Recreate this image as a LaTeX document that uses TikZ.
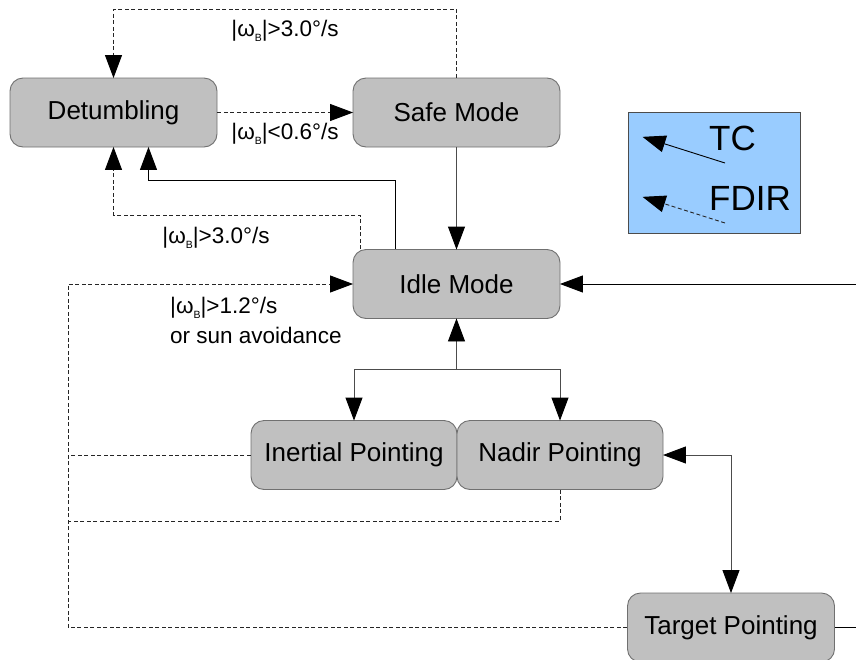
\documentclass[tikz,border=0pt]{standalone}
\usepackage{fontspec}
\setmainfont{Liberation Sans}
\usetikzlibrary{arrows.meta,calc}
\definecolor{boxfill}{HTML}{C0C0C0}
\definecolor{boxline}{HTML}{707070}
\definecolor{legendfill}{HTML}{99CCFF}
\newcommand{\wb}{|ω\raisebox{-5pt}{\fontsize{10.5}{10.5}\selectfont B}|}
\begin{document}
\begin{tikzpicture}[x=1pt,y=-1pt,
  modebox/.style={draw=boxline,fill=boxfill,line width=0.9pt,rounded corners=13pt,
    minimum width=207pt,minimum height=69pt,inner sep=0pt,
    font=\fontsize{26}{30}\selectfont},
  cond/.style={font=\fontsize{22.5}{26}\selectfont,inner sep=0pt},
  head/.tip={Triangle[length=23pt,width=17pt,color=black,fill=black,sep=-0.5pt]},
  tip/.style={-head},
  tc/.style={draw=black,line width=0.9pt},
  tcgray/.style={draw=black!70,line width=0.9pt},
  fdir/.style={draw=black!85,line width=0.9pt,dash pattern=on 4pt off 2.5pt},
]
\useasboundingbox (0,0) rectangle (856,659);

% mode boxes
\node[modebox] (det)    at (113.5,112.5) {Detumbling};
\node[modebox] (safe)   at (456.5,112.5) {Safe Mode};
\node[modebox] (idle)   at (456.5,284)   {Idle Mode};
\node[modebox,minimum width=206pt] (inert) at (354,455) {Inertial Pointing};
\node[modebox,minimum width=206pt] (nadir) at (560,455) {Nadir Pointing};
\node[modebox] (target) at (731,627.5)   {Target Pointing};

% legend
\node[draw=black!70,fill=legendfill,minimum width=172pt,minimum height=121pt,inner sep=0pt] (legend) at (714,172.5) {};
\node[anchor=base west,inner sep=0pt,font=\fontsize{35}{38}\selectfont] (ltc) at (709,150) {TC};
\node[anchor=base west,inner sep=0pt,font=\fontsize{35}{38}\selectfont] (lfdir) at (709,210) {FDIR};
\coordinate (tcA) at (725,163);
\coordinate (tcB) at (643,137);
\coordinate (fdA) at (725,223);
\coordinate (fdB) at (643,197);
\draw[tc,tip] (tcA) -- (tcB);
\draw[fdir,tip] (fdA) -- (fdB);

% helper points
\coordinate (lbus)  at (68,284);
\coordinate (lmid)  at (68,521);
\coordinate (jn)    at (456.5,369);
\coordinate (rin)   at (856,284);
\coordinate (rout)  at (856,627.5);

% Safe Mode -> Detumbling (FDIR)
\draw[fdir,tip] (safe.north) -- ++(0,-68.5) -| (det.north);
% Detumbling -> Safe Mode (FDIR)
\draw[fdir,tip] (det.east) -- (safe.west);
% Safe Mode -> Idle Mode
\draw[tcgray,tip] (safe.south) -- (idle.north);
% Idle Mode -> Detumbling (TC)
\draw[tc,tip] ([xshift=-61.5pt]idle.north) -- ++(0,-69) -| ([xshift=35pt]det.south);
% Idle Mode -> Detumbling (FDIR)
\draw[fdir,tip] ([xshift=-96.5pt]idle.north) -- ++(0,-34) -| (det.south);
% external command into Idle Mode
\draw[tc,tip] (rin) -- (idle.east);
% pointing modes -> Idle Mode (FDIR)
\draw[fdir,tip] (target.west) -| (lbus) -- (idle.west);
\draw[fdir] (inert.west) -- (inert.west -| lbus);
\draw[fdir] (nadir.south) |- (lmid);
% Idle Mode <-> pointing modes (TC)
\draw[tcgray,tip] (jn) -- (idle.south);
\draw[tcgray,tip] (jn) -| (inert.north);
\draw[tcgray,tip] (jn) -| (nadir.north);
\draw[tcgray,head-head] (nadir.east) -| (target.north);
\draw[tc] (target.east) -- (rout);

% transition conditions
\node[cond] (c1) at (285,31)  {\wb>3.0°/s};
\node[cond] (c2) at (285,134) {\wb<0.6°/s};
\node[cond] (c3) at (216,238) {\wb>3.0°/s};
\node[cond,anchor=base west] (c4) at (170,313) {\wb>1.2°/s};
\node[cond,anchor=base west] (c5) at (170,343) {or sun avoidance};
\end{tikzpicture}
\end{document}
